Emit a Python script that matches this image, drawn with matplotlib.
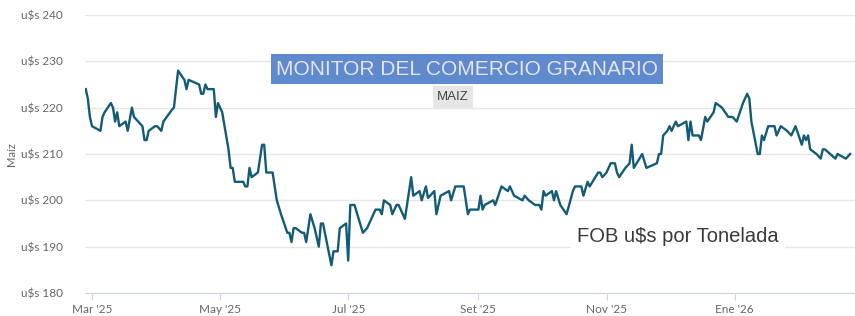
import pandas as pd
import matplotlib.pyplot as plt

# Precio FOB maiz, u$s por tonelada
fechas = [
    "2025-02-26", "2025-02-27", "2025-02-28", "2025-03-01", "2025-03-05", "2025-03-06",
    "2025-03-07", "2025-03-10", "2025-03-11", "2025-03-12", "2025-03-13", "2025-03-14",
    "2025-03-17", "2025-03-18", "2025-03-20", "2025-03-21", "2025-03-25", "2025-03-26",
    "2025-03-27", "2025-03-28", "2025-03-31", "2025-04-01", "2025-04-03", "2025-04-04",
    "2025-04-08", "2025-04-09", "2025-04-10", "2025-04-11", "2025-04-14", "2025-04-15",
    "2025-04-16", "2025-04-21", "2025-04-22", "2025-04-23", "2025-04-24", "2025-04-25",
    "2025-04-28", "2025-04-29", "2025-04-30", "2025-05-02", "2025-05-05", "2025-05-06",
    "2025-05-07", "2025-05-08", "2025-05-12", "2025-05-13", "2025-05-14", "2025-05-15",
    "2025-05-16", "2025-05-19", "2025-05-20", "2025-05-21", "2025-05-22", "2025-05-23",
    "2025-05-26", "2025-05-27", "2025-05-28", "2025-05-30", "2025-06-02", "2025-06-03",
    "2025-06-04", "2025-06-05", "2025-06-06", "2025-06-09", "2025-06-10", "2025-06-11",
    "2025-06-13", "2025-06-15", "2025-06-17", "2025-06-18", "2025-06-19", "2025-06-23",
    "2025-06-24", "2025-06-26", "2025-06-27", "2025-06-30", "2025-07-01", "2025-07-02",
    "2025-07-04", "2025-07-08", "2025-07-10", "2025-07-12", "2025-07-14", "2025-07-16",
    "2025-07-17", "2025-07-18", "2025-07-21", "2025-07-22", "2025-07-24", "2025-07-25",
    "2025-07-28", "2025-07-31", "2025-08-01", "2025-08-04", "2025-08-05", "2025-08-07",
    "2025-08-08", "2025-08-11", "2025-08-12", "2025-08-14", "2025-08-18", "2025-08-19",
    "2025-08-21", "2025-08-25", "2025-08-27", "2025-08-28", "2025-09-01", "2025-09-02",
    "2025-09-03", "2025-09-04", "2025-09-08", "2025-09-09", "2025-09-12", "2025-09-15",
    "2025-09-16", "2025-09-18", "2025-09-22", "2025-09-23", "2025-09-25", "2025-09-28",
    "2025-09-30", "2025-10-01", "2025-10-02", "2025-10-03", "2025-10-06", "2025-10-07",
    "2025-10-08", "2025-10-10", "2025-10-13", "2025-10-16", "2025-10-17", "2025-10-20",
    "2025-10-21", "2025-10-23", "2025-10-24", "2025-10-28", "2025-10-29", "2025-10-30",
    "2025-11-01", "2025-11-03", "2025-11-05", "2025-11-06", "2025-11-07", "2025-11-10",
    "2025-11-12", "2025-11-13", "2025-11-14", "2025-11-18", "2025-11-20", "2025-11-25",
    "2025-11-26", "2025-11-27", "2025-11-28", "2025-11-30", "2025-12-01", "2025-12-02",
    "2025-12-04", "2025-12-05", "2025-12-09", "2025-12-10", "2025-12-11", "2025-12-12",
    "2025-12-15", "2025-12-16", "2025-12-18", "2025-12-19", "2025-12-22", "2025-12-23",
    "2025-12-26", "2025-12-29", "2025-12-31", "2026-01-02", "2026-01-05", "2026-01-07",
    "2026-01-08", "2026-01-09", "2026-01-12", "2026-01-13", "2026-01-14", "2026-01-15",
    "2026-01-17", "2026-01-19", "2026-01-20", "2026-01-21", "2026-01-23", "2026-01-26",
    "2026-01-28", "2026-01-30", "2026-02-02", "2026-02-03", "2026-02-04", "2026-02-05",
    "2026-02-06", "2026-02-09", "2026-02-11", "2026-02-12", "2026-02-13", "2026-02-18",
    "2026-02-19", "2026-02-23", "2026-02-25",
]
precios = [
    224, 222, 218, 216, 215, 218,
    219, 221, 220, 217, 219, 216,
    217, 215, 220, 218, 216, 213,
    213, 215, 216, 216, 215, 217,
    219.5, 220, 224, 228, 226, 224,
    226, 225, 223, 223, 225, 224,
    224, 218, 221, 219, 211, 207,
    207, 204, 204, 203, 203, 207,
    205, 206, 209, 212, 212, 206,
    206, 203, 200, 197, 193, 193,
    191, 194, 194, 193, 193, 191,
    197, 194, 190, 195, 195, 186,
    189, 189, 194, 195, 187, 199,
    199, 193, 194, 196, 198, 198,
    197, 200, 199, 197, 199, 199,
    196, 205, 201, 202, 200, 203,
    200.5, 202, 197, 201, 202, 200,
    203, 203, 197, 198, 198, 201,
    198, 199, 200, 199, 203, 202,
    203, 201, 200, 201, 200, 199,
    199, 198, 202, 201, 202, 200,
    202, 199, 197, 202, 203, 203,
    201, 204, 203, 206, 206, 205,
    206, 208, 208, 206, 205, 207,
    208, 212, 207, 210, 207, 208,
    210, 210, 214, 215, 216, 215,
    217, 216, 217, 213, 217, 214,
    214, 213, 218, 217, 219, 221,
    220, 218, 218, 217, 221, 223,
    222, 217, 210, 210, 214, 213,
    216, 216, 216, 214, 216, 215,
    214, 216, 212, 214, 213, 214,
    211, 210, 209, 211, 211, 209,
    210, 209, 210,
]

tick_fechas = ["2025-03-01", "2025-05-01", "2025-07-01", "2025-09-01", "2025-11-01", "2026-01-01"]
tick_labels = ["Mar '25", "May '25", "Jul '25", "Set '25", "Nov '25", "Ene '26"]
y_ticks = [180, 190, 200, 210, 220, 230, 240]

x = pd.to_datetime(fechas)

fig = plt.figure(figsize=(8.55, 3.16), dpi=100)
ax = fig.add_axes([85 / 855, 1 - 293 / 316, 770 / 855, 278 / 316])

ax.plot(x, precios, color="#135c77", lw=1.7, solid_joinstyle="round", zorder=3)

ax.set_ylim(180, 240)
ax.set_xlim(pd.Timestamp("2025-02-25 16:00"), pd.Timestamp("2026-02-27 08:00"))
ax.set_yticks(y_ticks)
ax.set_yticklabels([f"u$s {v}" for v in y_ticks], fontfamily="Lato", fontsize=8.5, color="#666666")
ax.set_xticks(pd.to_datetime(tick_fechas))
ax.set_xticklabels(tick_labels, fontfamily="Lato", fontsize=8.5, color="#666666")
ax.tick_params(axis="y", length=0, pad=16)
ax.tick_params(axis="x", length=5, color="#ccd6eb", pad=3)

ax.grid(axis="y", color="#e6e6e6", lw=1)
for s in ["top", "right", "left"]:
    ax.spines[s].set_visible(False)
ax.spines["bottom"].set_color("#ccd6eb")
ax.set_ylabel("Maíz", fontfamily="Lato", fontsize=8, color="#666666", labelpad=3)

# titulos
fig.text(467 / 855, 1 - 69 / 316, "MONITOR DEL COMERCIO GRANARIO", ha="center", va="center",
         fontfamily="Liberation Sans", fontsize=15, color="#e4e4e4",
         bbox=dict(boxstyle="square,pad=0.25", fc="#5f8ace", ec="none"))
fig.text(453 / 855, 1 - 97 / 316, "MAIZ", ha="center", va="center",
         fontfamily="Liberation Sans", fontsize=9.5, color="#444444",
         bbox=dict(boxstyle="square,pad=0.35", fc="#e6e6e6", ec="none"))
fig.text(678 / 855, 1 - 237 / 316, "FOB u$s por Tonelada", ha="center", va="center",
         fontfamily="Liberation Sans", fontsize=14.5, color="#3a3a3a",
         bbox=dict(boxstyle="square,pad=0.3", fc="white", ec="none"))

fig.savefig("out.png", dpi=100)
